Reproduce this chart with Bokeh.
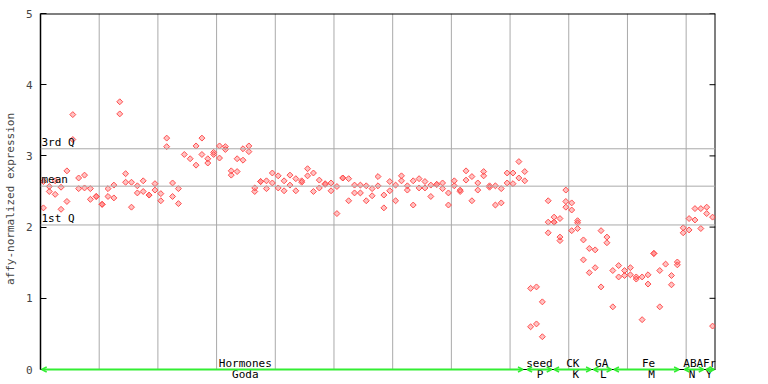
import numpy as np
from bokeh.plotting import figure
from bokeh.models import (FixedTicker, Span, Label, Arrow, OpenHead,
                          ColumnDataSource, Range1d)
from bokeh.core.properties import value
from bokeh.embed import file_html
from bokeh.resources import INLINE

# ---------------- data ----------------
rep_a = [2.64, 2.57, 2.65, 2.56, 2.79, 3.58, 2.69, 2.73, 2.54, 2.43,
         2.32, 2.54, 2.59, 3.76, 2.75, 2.63, 2.58, 2.65, 2.45, 2.61,
         2.47, 3.25, 2.62, 2.54, 3.02, 2.96, 3.14, 3.25, 2.96, 3.05,
         3.14, 3.13, 2.79, 2.96, 3.10, 3.14, 2.55, 2.64, 2.65, 2.76,
         2.72, 2.65, 2.73, 2.68, 2.65, 2.82, 2.76, 2.66, 2.61, 2.62,
         2.57, 2.69, 2.68, 2.59, 2.59, 2.58, 2.54, 2.71, 2.45, 2.64,
         2.59, 2.72, 2.58, 2.65, 2.68, 2.64, 2.59, 2.60, 2.62, 2.48,
         2.65, 2.52, 2.79, 2.71, 2.62, 2.78, 2.58, 2.58, 2.54, 2.76,
         2.76, 2.92, 2.78, 1.14, 1.16, 0.95, 2.37, 2.14, 2.12, 2.52,
         2.34, 2.09, 1.82, 1.70, 1.68, 1.95, 1.86, 1.39, 1.46, 1.39,
         1.43, 1.30, 1.30, 1.33, 1.63, 1.39, 1.48, 1.32, 1.51, 1.99,
         2.12, 2.26, 2.26, 2.28, 2.14]
rep_b = [2.27, 2.50, 2.46, 2.25, 2.36, 3.23, 2.54, 2.55, 2.39, 2.43,
         2.32, 2.43, 2.41, 3.59, 2.63, 2.28, 2.48, 2.50, 2.45, 2.52,
         2.37, 3.13, 2.43, 2.33, None, None, 2.87, 3.02, 2.90, 3.02,
         2.97, 3.09, 2.73, 2.78, 2.94, 3.06, 2.50, 2.64, 2.54, 2.62,
         2.55, 2.51, 2.59, 2.51, 2.63, 2.72, 2.50, 2.55, 2.60, 2.51,
         2.19, 2.69, 2.37, 2.48, 2.48, 2.37, 2.44, 2.58, 2.27, 2.51,
         2.37, 2.65, 2.52, 2.31, 2.55, 2.55, 2.43, 2.60, 2.54, 2.31,
         2.58, 2.50, 2.66, 2.37, 2.52, 2.72, 2.56, 2.31, 2.34, 2.62,
         2.61, 2.69, 2.65, 0.60, 0.64, 0.46, 2.07, 2.07, 1.86, 2.36,
         2.24, 2.06, 1.54, 1.36, 1.43, 1.16, 1.78, 0.88, 1.30, 1.32,
         1.33, 1.27, 0.70, 1.20, 1.63, 0.88, None, 1.19, 1.47, 1.92,
         1.96, 2.10, 1.98, 2.19, 0.61]
extra_idx = [86, 87, 88, 89, 90, 91]
extra_val = [1.92, 2.07, 1.81, 2.28, 1.95, 1.98]

stat_vals = [3.10, 2.575, 2.03]
stat_labels = ["3rd Q", "mean", "1st Q"]

group_labels = ["Hormones", "seed", "CK", "GA", "Fe", "ABA", "Fr"]
group_label_x = [34.9, 85.0, 90.7, 95.6, 103.6, 111.2, 114.0]
group_start = [0.0, 82.7, 87.3, 94.0, 97.5, 109.5, 113.2]
group_end = [82.4, 87.3, 94.0, 97.5, 109.0, 113.2, 115.0]
sub_labels = ["Goda", "P", "K", "L", "M", "N", "Y"]
sub_label_x = [34.9, 85.1, 91.2, 95.9, 104.1, 111.0, 113.9]

y_ticks = [0, 1, 2, 3, 4, 5]
x_grid = [10, 20, 30, 40, 50, 60, 70, 80, 90, 100, 110]
n_samples = len(rep_a)
y_max = 5

# ---------------- layout constants (pixels) ----------------
W, H = 752, 384
PX_LEFT, PX_RIGHT, PX_TOP, PX_ZERO = 37, 715, 13, 369
unit = (PX_ZERO - PX_TOP) / y_max          # px per expression unit
per_sample = (PX_RIGHT - PX_LEFT) / n_samples
y_start = -(H - PX_ZERO) / unit            # frame extends below zero for the label rows

# ---------------- points ----------------
xs, ys = [], []
for i in range(n_samples):
    for v in (rep_a[i], rep_b[i]):
        if v is not None:
            xs.append(i + 0.5)
            ys.append(v)
for i, v in zip(extra_idx, extra_val):
    xs.append(i + 0.5)
    ys.append(v)
src = ColumnDataSource(dict(x=xs, y=ys))

FONT = "DejaVu Sans Mono"

p = figure(width=W, height=H, output_backend="svg", toolbar_location=None,
           x_range=Range1d(0, n_samples), y_range=Range1d(y_start, y_max),
           x_axis_location=None, y_axis_location="left",
           min_border_left=PX_LEFT, min_border_right=W - PX_RIGHT,
           min_border_top=PX_TOP, min_border_bottom=0)
p.background_fill_color = "white"
p.border_fill_color = "white"
p.outline_line_color = None
p.ygrid.visible = False
for g in list(p.xgrid):
    g.visible = False

# vertical grid lines (only over the 0..5 band)
p.segment(x0=x_grid, x1=x_grid, y0=[0] * len(x_grid), y1=[y_max] * len(x_grid),
          line_color="#aaaaaa", line_width=1)

yax = p.yaxis[0]
yax.ticker = FixedTicker(ticks=y_ticks)
yax.bounds = (0, y_max)
yax.axis_label = "affy-normalized expression"
yax.axis_label_text_font = FONT
yax.axis_label_text_font_size = "11px"
yax.axis_label_text_font_style = "normal"
yax.axis_label_standoff = 6
yax.major_label_text_font = FONT
yax.major_label_text_font_size = "11px"
yax.major_label_standoff = 8
yax.major_tick_in = 6
yax.major_tick_out = 0
yax.minor_tick_in = 0
yax.minor_tick_out = 0
yax.axis_line_color = "black"
yax.axis_line_width = 1.5
yax.major_tick_line_color = "black"

# frame: top and right borders, inward ticks on the right
p.segment(x0=[0], x1=[n_samples], y0=[y_max], y1=[y_max], line_color="black", line_width=2)
p.segment(x0=[n_samples], x1=[n_samples], y0=[0], y1=[y_max], line_color="black", line_width=2)
tick_len = 6 / per_sample
p.segment(x0=[n_samples] * len(y_ticks), x1=[n_samples - tick_len] * len(y_ticks),
          y0=y_ticks, y1=y_ticks, line_color="black", line_width=1)
p.segment(x0=[0], x1=[n_samples], y0=[0], y1=[0], line_color="black", line_width=1)

for v, lab in zip(stat_vals, stat_labels):
    p.add_layout(Span(location=v, dimension="width", line_color="#aaaaaa", line_width=1))
    p.add_layout(Label(x=0, y=v, text=lab, text_font=FONT, text_font_size="11px",
                       text_color="black", text_baseline="bottom", text_align="left",
                       x_offset=1, y_offset=0))

p.scatter("x", "y", source=src, marker="square", angle=np.pi / 4, size=4.2,
          line_color="#ff4f4f", line_width=1, fill_color="#ff4f4f", fill_alpha=0.35)

GREEN = "#33ee33"
for s, e in zip(group_start, group_end):
    p.add_layout(Arrow(x_start=s + 0.2, y_start=0, x_end=e - 0.2, y_end=0,
                       line_color=GREEN, line_width=2,
                       start=OpenHead(size=5, line_color=GREEN, line_width=1.5),
                       end=OpenHead(size=5, line_color=GREEN, line_width=1.5)))

row1_y = 6 / unit
row2_y = -(380.5 - PX_ZERO) / unit
p.text(x=group_label_x, y=[row1_y] * len(group_labels), text=group_labels,
       text_font=value(FONT), text_font_size="11px", text_color="black",
       text_align="center", text_baseline="middle")
p.text(x=sub_label_x, y=[row2_y] * len(sub_labels), text=sub_labels,
       text_font=value(FONT), text_font_size="11px", text_color="black",
       text_align="center", text_baseline="bottom")

open("out.html", "w").write(file_html(p, INLINE))
